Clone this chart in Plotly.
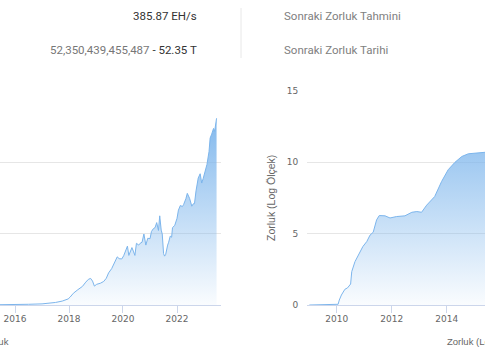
import plotly.graph_objects as go

W, H = 485, 360

# ---- data: left chart (difficulty, T) ----
diff_dates = ["2015-01-01", "2015-07-01", "2016-01-01", "2016-07-01", "2017-01-01", "2017-04-01",
              "2017-07-01", "2017-10-01", "2017-12-20", "2018-01-15", "2018-03-01", "2018-05-01",
              "2018-07-01", "2018-08-15", "2018-09-20", "2018-10-20", "2018-11-15", "2018-12-10",
              "2019-01-10", "2019-03-01", "2019-04-15", "2019-05-20", "2019-06-20", "2019-08-01",
              "2019-09-15", "2019-10-15", "2019-11-10", "2019-12-15", "2020-01-10", "2020-02-10",
              "2020-03-01", "2020-03-20", "2020-04-10", "2020-05-01", "2020-05-20", "2020-06-10",
              "2020-07-01", "2020-08-01", "2020-08-20", "2020-09-15", "2020-10-10", "2020-11-05",
              "2020-12-01", "2021-01-01", "2021-01-20", "2021-02-15", "2021-03-10", "2021-04-01",
              "2021-04-25", "2021-05-12", "2021-06-01", "2021-06-15", "2021-07-03", "2021-07-17",
              "2021-08-01", "2021-08-13", "2021-08-27", "2021-09-10", "2021-10-01", "2021-10-20",
              "2021-11-01", "2021-12-01", "2022-01-01", "2022-01-20", "2022-02-15", "2022-03-15",
              "2022-04-01", "2022-05-01", "2022-05-20", "2022-06-20", "2022-07-20", "2022-08-10",
              "2022-08-25", "2022-09-15", "2022-10-15", "2022-11-10", "2022-12-01", "2022-12-20",
              "2023-01-15", "2023-02-10", "2023-03-10", "2023-03-25", "2023-04-15", "2023-05-10",
              "2023-05-25", "2023-06-10", "2023-06-20"]
diff_T = [0.04, 0.05, 0.10, 0.20, 0.32, 0.50,
          0.71, 1.10, 1.7, 2.2, 3.3, 4.3,
          5.2, 6.4, 7.2, 7.45, 6.7, 5.3,
          5.8, 6.1, 6.6, 7.5, 9.0, 10.2,
          12.0, 13.5, 13.0, 12.9, 13.8, 15.5,
          16.5, 13.9, 15.1, 16.1, 15.1, 13.9,
          17.3, 16.8, 17.3, 17.6, 19.9, 16.8,
          18.7, 18.6, 20.6, 21.4, 21.7, 23.1,
          20.9, 25.0, 21.0, 19.9, 14.4, 13.7,
          14.2, 15.6, 16.8, 17.6, 19.3, 19.0,
          21.7, 22.3, 24.3, 26.6, 27.9, 27.6,
          28.2, 29.8, 31.3, 29.9, 27.7, 28.4,
          28.4, 32.0, 35.6, 36.8, 34.2, 35.4,
          37.6, 39.4, 43.0, 46.8, 47.9, 49.5,
          48.7, 52.35, 52.35]
diff_vals = [v * 1e12 for v in diff_T]

# ---- data: right chart (log10 difficulty) ----
log_dates = ["2009-01-03", "2009-12-30", "2010-01-20", "2010-02-05", "2010-03-05", "2010-04-20",
             "2010-05-25", "2010-07-05", "2010-07-20", "2010-09-01", "2010-10-15", "2010-12-15",
             "2011-02-05", "2011-03-20", "2011-05-01", "2011-06-15", "2011-07-20", "2011-10-05",
             "2011-12-10", "2012-03-05", "2012-06-25", "2012-09-25", "2012-11-30", "2013-02-01",
             "2013-04-10", "2013-07-25", "2013-10-25", "2014-01-20", "2014-04-20", "2014-07-20",
             "2014-10-15", "2015-02-01", "2015-05-25", "2015-09-01"]
log_vals = [0, 0, 0.05, 0.35, 0.7, 1.1,
            1.2, 1.47, 2.34, 3.04, 3.5, 4.1,
            4.45, 4.9, 5.1, 5.97, 6.27, 6.25,
            6.1, 6.2, 6.25, 6.5, 6.55, 6.5,
            7.0, 7.6, 8.66, 9.48, 10.0, 10.41,
            10.6, 10.65, 10.7, 10.75]

left_yticks = [0, 20e12, 40e12, 60e12]
right_yticks = [0, 5, 10, 15]

hash_text = "385.87 EH/s"
diff_full = "52,350,439,455,487"
diff_short = "52.35 T"
label_1 = "Sonraki Zorluk Tahmini"
label_2 = "Sonraki Zorluk Tarihi"
series_name = "Zorluk"
log_title = "Zorluk (Log Ölçek)"

LINE = "#7cb5ec"
grad = [[0, "rgba(124,181,236,0.04)"], [1, "rgba(124,181,236,0.95)"]]

def px(x):
    return x / W

def py(y):
    return 1 - y / H

fig = go.Figure()
fig.add_trace(go.Scatter(x=diff_dates, y=diff_vals, mode="lines", fill="tozeroy",
                         line=dict(color=LINE, width=1),
                         fillgradient=dict(type="vertical", colorscale=grad, start=0, stop=52.35e12),
                         xaxis="x", yaxis="y", showlegend=False, hoverinfo="skip"))
fig.add_trace(go.Scatter(x=log_dates, y=log_vals, mode="lines", fill="tozeroy",
                         line=dict(color=LINE, width=1),
                         fillgradient=dict(type="vertical", colorscale=grad, start=0, stop=13.7),
                         xaxis="x2", yaxis="y2", showlegend=False, hoverinfo="skip"))

ydom = [py(305), py(91)]
tickfont = dict(family="DejaVu Sans", size=9, color="#666666")
common_x = dict(type="date", showgrid=False, showline=True, linecolor="#ccd6eb", linewidth=1,
                ticks="outside", ticklen=7, tickcolor="#ccd6eb", tickformat="%Y",
                dtick="M24", tickfont=tickfont, zeroline=False, fixedrange=True,
                ticklabelstandoff=-2, automargin=False)
common_y = dict(showgrid=True, gridcolor="#e6e6e6", gridwidth=1, zeroline=False,
                showline=False, tickfont=tickfont, fixedrange=True, automargin=False)

fig.update_layout(
    width=W, height=H, margin=dict(l=0, r=0, t=0, b=0, autoexpand=False),
    paper_bgcolor="white", plot_bgcolor="white",
    xaxis=dict(domain=[0, px(221)], range=["2015-06-12", "2023-08-19"], tick0="2016-01-01",
               anchor="y", **common_x),
    yaxis=dict(domain=ydom, range=[0, 60e12], tickvals=left_yticks, showticklabels=False,
               anchor="x", **common_y),
    xaxis2=dict(domain=[px(307.3), 1], range=["2008-12-07", "2015-05-24"], tick0="2010-01-01",
                anchor="y2", **common_x),
    yaxis2=dict(domain=ydom, range=[0, 15], tickvals=right_yticks, ticklabelstandoff=8,
                anchor="x2", **common_y),
)

hfont = dict(family="Roboto", size=11.5, color="#333333")
ann = [
    dict(text=hash_text, x=px(198), y=py(16), xanchor="right", yanchor="middle", font=hfont),
    dict(text=f"<span style='color:#777777'>{diff_full}</span> - {diff_short}",
         x=px(198), y=py(50), xanchor="right", yanchor="middle", font=hfont),
    dict(text=label_1, x=px(283), y=py(16), xanchor="left", yanchor="middle",
         font=dict(family="Roboto", size=11.5, color="#808080")),
    dict(text=label_2, x=px(283), y=py(50), xanchor="left", yanchor="middle",
         font=dict(family="Roboto", size=11.5, color="#808080")),
    dict(text=log_title, x=px(271.7), y=py(198.3), textangle=-90, xanchor="center", yanchor="middle",
         font=dict(family="Liberation Sans", size=10.5, color="#666666")),
    dict(text=series_name, x=px(10), y=py(341), xanchor="right", yanchor="middle",
         font=dict(family="Liberation Sans", size=9.5, color="#666666")),
    dict(text=log_title, x=px(446), y=py(341), xanchor="left", yanchor="middle",
         font=dict(family="Liberation Sans", size=9.5, color="#666666")),
]
for a in ann:
    a.update(xref="paper", yref="paper", showarrow=False, borderpad=0)
fig.update_layout(annotations=ann)

fig.add_shape(type="line", xref="paper", yref="paper", x0=px(241), x1=px(241), y0=py(8), y1=py(58),
              line=dict(color="#e8e8e8", width=1))

fig.write_html("out.html", config={"displayModeBar": False},
               post_script="document.body.style.margin='0';")
